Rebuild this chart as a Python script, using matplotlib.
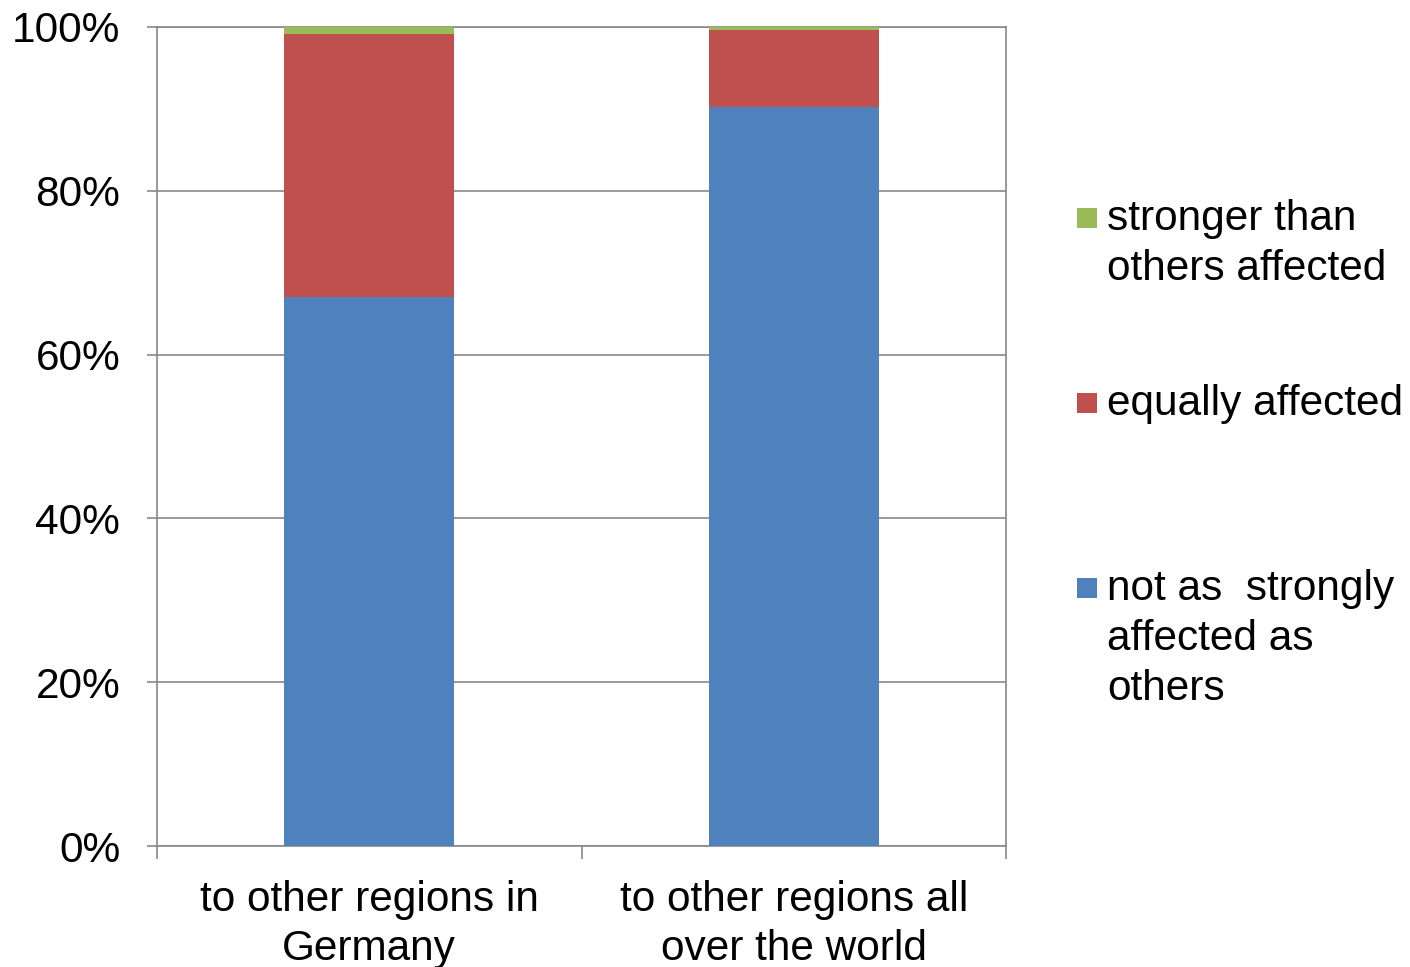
import matplotlib
matplotlib.use("Agg")
import matplotlib.pyplot as plt
from matplotlib.patches import Rectangle
import numpy as np

categories = ["to other regions in\nGermany", "to other regions all\nover the world"]
not_as_strongly = [67.0, 90.2]
equally = [32.1, 9.4]
stronger = [0.9, 0.4]
series_labels = ["not as  strongly\naffected as\nothers", "equally affected", "stronger than\nothers affected"]
colors = ["#4F81BD", "#C0504D", "#9BBB59"]
yticks = [0, 20, 40, 60, 80, 100]
ytick_labels = ["0%", "20%", "40%", "60%", "80%", "100%"]

plt.rcParams['font.family'] = ['Liberation Sans', 'DejaVu Sans']
fs = 30.5
grid_c = "#888888"

fig = plt.figure(figsize=(14.10, 9.67), dpi=100)
ax = fig.add_axes([157/1410, 1 - 846/967, (1006-157)/1410, (846-27)/967])

x = np.arange(len(categories))
bottom = np.zeros(len(categories))
for vals, c in zip([not_as_strongly, equally, stronger], colors):
    ax.bar(x, vals, width=0.4, bottom=bottom, color=c, zorder=3)
    bottom += np.array(vals)

ax.set_xlim(-0.5, 1.5)
ax.set_ylim(0, 100)
ax.set_yticks(yticks)
ax.set_yticklabels(ytick_labels, fontsize=fs)
ax.yaxis.grid(True, color=grid_c, linewidth=1.2, zorder=0)
ax.tick_params(axis='y', length=7.5, width=1.2, color=grid_c, pad=19)

ax.set_xticks(x)
ax.set_xticklabels(categories, fontsize=fs, linespacing=1.3)
ax.set_xticks([-0.5, 0.5, 1.5], minor=True)
ax.tick_params(axis='x', which='major', length=0, pad=24.5)
ax.tick_params(axis='x', which='minor', length=9, width=1.2, color=grid_c)

for s in ax.spines.values():
    s.set_color(grid_c)
    s.set_linewidth(1.2)

# legend (manual, to match layout)
leg_y = [588, 403, 218]
for lab, c, yc in zip(series_labels, colors, leg_y):
    fig.patches.append(Rectangle((1077/1410, 1 - (yc+10)/967), 20/1410, 20/967,
                                 transform=fig.transFigure, facecolor=c, edgecolor='none'))
    fig.text(1107/1410, 1 - (yc - 19)/967, lab, fontsize=fs, va='top', ha='left',
             linespacing=1.32)

fig.savefig("out.png", dpi=100)
